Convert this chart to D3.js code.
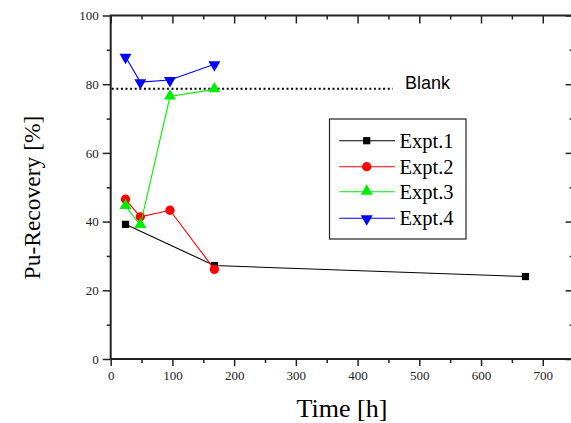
<!DOCTYPE html>
<html><head><meta charset="utf-8">
<script src="https://cdn.jsdelivr.net/npm/d3@7"></script>
<style>body{margin:0;background:#fff}svg{display:block}
.serif{font-family:"Liberation Serif","Times New Roman",Times,Tinos,"Nimbus Roman","DejaVu Serif",serif}
.sans{font-family:"Liberation Sans",Arial,Helvetica,sans-serif}
</style>
</head><body>
<svg id="c" width="571" height="423"></svg>
<script>
const seriesNames = ["Expt.1","Expt.2","Expt.3","Expt.4"];
const seriesColors = ["#000000","#ff0000","#00ee00","#0000ff"];
const seriesSymbols = ["square","circle","triangleUp","triangleDown"];
const expt1 = [[24,39.2],[168,27.2],[672,24.0]];
const expt2 = [[24,46.5],[48,41.4],[96,43.3],[168,26.1]];
const expt3 = [[24,44.5],[48,39.0],[96,76.4],[168,78.5]];
const expt4 = [[24,88.0],[48,80.6],[96,81.2],[168,85.8]];
const blankValue = 78.7;
const blankLabel = "Blank";
const xTicks = [0,100,200,300,400,500,600,700];
const yTicks = [0,20,40,60,80,100];

const svg = d3.select("#c");
const L=110.7, R=573.6, T=15.5, B=359;
const x = d3.scaleLinear().domain([0,750]).range([L,R]);
const y = d3.scaleLinear().domain([0,100]).range([B,T]);
const axisColor = "#222";

// dotted blank line
svg.append("line").attr("x1",x(0)+1).attr("x2",x(457)).attr("y1",y(blankValue)).attr("y2",y(blankValue))
  .attr("stroke","#000").attr("stroke-width",2).attr("stroke-dasharray","2,2.6");
svg.append("text").attr("class","sans").attr("x",405).attr("y",y(blankValue)+0.6).attr("font-size",18)
  .attr("fill","#000").text(blankLabel);

function styleAxis(g){g.select(".domain").remove();g.selectAll("line").attr("stroke",axisColor).attr("stroke-width",1.5);g.attr("font-family",null);}
const xMinor = d3.range(50,750,100);
const yMinor = d3.range(10,100,20);
// bottom
const gB = svg.append("g").attr("transform",`translate(0,${B})`)
  .call(d3.axisBottom(x).tickValues(xTicks).tickSize(7).tickPadding(5).tickFormat(d3.format("d")));
styleAxis(gB);
gB.selectAll("text").attr("class","serif").attr("font-size",13).attr("fill","#222");
svg.append("g").attr("transform",`translate(0,${B})`).call(d3.axisBottom(x).tickValues(xMinor).tickSize(4).tickFormat("")).call(styleAxis);
// top
svg.append("g").attr("transform",`translate(0,${T})`).call(d3.axisBottom(x).tickValues(xTicks).tickSize(8).tickFormat("")).call(styleAxis);
svg.append("g").attr("transform",`translate(0,${T})`).call(d3.axisBottom(x).tickValues(xMinor).tickSize(4).tickFormat("")).call(styleAxis);
// left
const gL = svg.append("g").attr("transform",`translate(${L},0)`)
  .call(d3.axisLeft(y).tickValues(yTicks).tickSize(8).tickPadding(4));
styleAxis(gL);
gL.selectAll("text").attr("class","serif").attr("font-size",13).attr("fill","#222");
svg.append("g").attr("transform",`translate(${L},0)`).call(d3.axisLeft(y).tickValues(yMinor).tickSize(4).tickFormat("")).call(styleAxis);
// right
svg.append("g").attr("transform",`translate(${R},0)`).call(d3.axisLeft(y).tickValues(yTicks).tickSize(8).tickFormat("")).call(g=>{styleAxis(g);g.selectAll("line").attr("x2",-8);});
svg.append("g").attr("transform",`translate(${R},0)`).call(d3.axisLeft(y).tickValues(yMinor).tickSize(4).tickFormat("")).call(g=>{styleAxis(g);g.selectAll("line").attr("x2",-4);});
// frame
svg.append("rect").attr("x",L).attr("y",T).attr("width",R-L).attr("height",B-T)
  .attr("fill","none").attr("stroke",axisColor).attr("stroke-width",2);

function drawSymbol(g, kind, cx, cy, color){
  if(kind==="triangleDown"){
    g.append("path").attr("d",d3.symbol().type(d3.symbolTriangle).size(62)()).attr("transform",`translate(${cx},${cy+0.5}) rotate(180)`).attr("fill",color);
  } else if(kind==="triangleUp"){
    g.append("path").attr("d",d3.symbol().type(d3.symbolTriangle).size(62)()).attr("transform",`translate(${cx},${cy-0.5})`).attr("fill",color);
  } else if(kind==="square"){
    g.append("path").attr("d",d3.symbol().type(d3.symbolSquare).size(52)()).attr("transform",`translate(${cx},${cy})`).attr("fill",color);
  } else {
    g.append("path").attr("d",d3.symbol().type(d3.symbolCircle).size(68)()).attr("transform",`translate(${cx},${cy})`).attr("fill",color);
  }
}
const allSeries = [expt1,expt2,expt3,expt4];
const line = d3.line().x(d=>x(d[0])).y(d=>y(d[1]));
allSeries.forEach((s,i)=>{
  const g = svg.append("g");
  g.append("path").attr("d",line(s)).attr("fill","none").attr("stroke",seriesColors[i]).attr("stroke-width",1.1);
  s.forEach(d=>drawSymbol(g,seriesSymbols[i],x(d[0]),y(d[1]),seriesColors[i]));
});

// legend
const lg = svg.append("g");
lg.append("rect").attr("x",329.5).attr("y",119).attr("width",136.5).attr("height",120)
  .attr("fill","#fff").attr("stroke","#222").attr("stroke-width",1.2);
const legY = [140.7,166.7,191.7,218.3];
seriesNames.forEach((n,i)=>{
  lg.append("line").attr("x1",339.3).attr("x2",395).attr("y1",legY[i]).attr("y2",legY[i]).attr("stroke",seriesColors[i]).attr("stroke-width",1.1);
  drawSymbol(lg,seriesSymbols[i],366.7,legY[i],seriesColors[i]);
  lg.append("text").attr("class","serif").attr("x",399.5).attr("y",legY[i]+7).attr("font-size",20.5).attr("fill","#000").text(n);
});

// axis titles
svg.append("text").attr("class","serif").attr("x",342).attr("y",416.5).attr("text-anchor","middle")
  .attr("font-size",26).attr("fill","#000").text("Time [h]");
svg.append("text").attr("class","serif").attr("transform","translate(40,197.5) rotate(-90)").attr("text-anchor","middle")
  .attr("font-size",23.5).attr("fill","#000").text("Pu-Recovery [%]");
</script>
</body></html>
